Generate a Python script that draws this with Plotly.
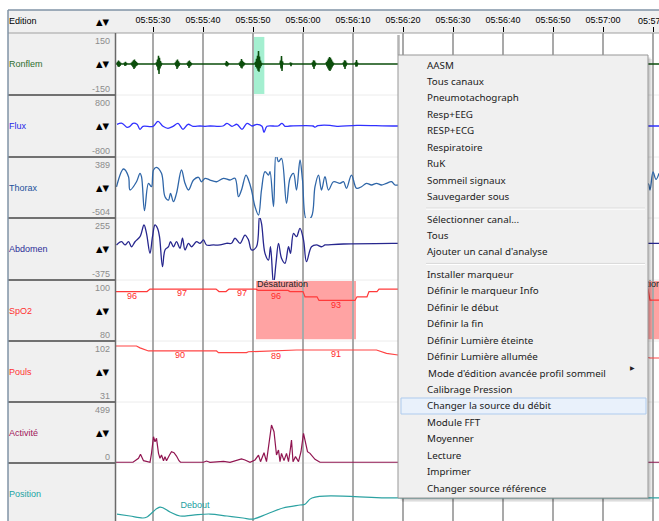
import plotly.graph_objects as go

W, H = 659, 521

# time axis in seconds after 05:55:00
tick_vals = [30, 40, 50, 60, 70, 80, 90, 100, 110, 120, 130]
tick_text = ["05:55:30", "05:55:40", "05:55:50", "05:56:00", "05:56:10", "05:56:20",
             "05:56:30", "05:56:40", "05:56:50", "05:57:00", "05:57:10"]
t_range = [22.6, 131.2]

channels = ["Ronflem", "Flux", "Thorax", "Abdomen", "SpO2", "Pouls", "Activité", "Position"]
scale_top = ["150", "800", "389", "255", "100", "102", "499", ""]
scale_bottom = ["-150", "-800", "-504", "-375", "80", "31", "0", ""]
y_ranges = [[-150, 150], [-800, 800], [-504, 389], [-375, 255],
            [80, 100], [31, 102], [0, 499], [0, 100]]
label_colors = ["#2f6e2f", "#2828e8", "#24509c", "#2c2c98",
                "#ff3030", "#ff3030", "#a0145a", "#22a4a4"]
line_colors = ["#0b4d0b", "#3030ff", "#2f66a8", "#27278e",
               "#ff3a3a", "#ff4444", "#901450", "#2ca2a2"]

# Ronflem (snoring)
ronflem_t = [22.6,
             22.8, 22.9, 23.0, 23.1, 23.2, 23.3, 23.4, 23.5, 23.6,
             24.2, 24.3, 24.4, 24.5, 24.6, 24.7, 24.8,
             25.6, 25.7, 25.8, 25.9, 26.0, 26.1, 26.2, 26.3, 26.4, 26.5, 26.6, 26.7, 26.8, 26.9, 27.0,
             30.6, 30.7, 30.8, 30.9, 31.0, 31.1, 31.2, 31.3, 31.4, 31.5, 31.6, 31.7, 31.8,
             34.4, 34.5, 34.6, 34.7, 34.8, 34.9, 35.0, 35.1, 35.2, 35.3, 35.4,
             36.8, 36.9, 37.0, 37.1, 37.2, 37.3, 37.4, 37.5, 37.6, 37.7, 37.8,
             44.4, 44.5, 44.6, 44.7, 44.8, 44.9, 45.0, 45.1, 45.2,
             47.2, 47.3, 47.4, 47.5, 47.6, 47.7, 47.8, 47.9, 48.0, 48.1, 48.2, 48.3, 48.4,
             50.4, 50.5, 50.6, 50.7, 50.8, 50.9, 51.0, 51.1, 51.2, 51.3, 51.4, 51.5, 51.6, 51.7, 51.8,
             55.4, 55.5, 55.6, 55.7, 55.8, 55.9, 56.0,
             57.4, 57.5, 57.6, 57.7, 57.8,
             61.8, 61.9, 62.0, 62.1, 62.2, 62.3, 62.4, 62.5, 62.6,
             64.6, 64.7, 64.8, 64.9, 65.0, 65.1, 65.2, 65.3, 65.4, 65.5, 65.6, 65.7, 65.8, 65.9, 66.0, 66.1, 66.2,
             68.0, 68.1, 68.2, 68.3, 68.4, 68.5, 68.6, 68.7, 68.8,
             70.4, 70.5, 70.6, 70.7, 70.8, 70.9, 71.0,
             131.2]
ronflem_v = [0,
             0, 10, -12, 17, -14, 12, -9, 6, 0,
             0, 6, -9, 10, -7, 4, 0,
             0, 6, -8, 12, -15, 18, -24, 22, -18, 14, -11, 9, -6, 3, 0,
             0, 8, -12, 22, -30, 40, -48, 30, -22, 14, -10, 5, 0,
             0, 8, -11, 16, -24, 22, -17, 13, -9, 5, 0,
             0, 6, -9, 13, -19, 17, -12, 9, -6, 3, 0,
             0, 5, -8, 14, -12, 9, -6, 3, 0,
             0, 6, -9, 13, -18, 24, -22, 16, -12, 9, -7, 4, 0,
             0, 10, -14, 25, -22, 40, -32, 63, -38, 36, -20, 16, -10, 5, 0,
             0, 16, -22, 38, -34, 12, 0,
             0, 7, -10, 5, 0,
             0, 8, -13, 18, -24, 16, -10, 6, 0,
             0, 9, -12, 17, -22, 26, -30, 34, -34, 30, -26, 22, -17, 12, -8, 4, 0,
             0, 8, -13, 18, -24, 16, -10, 6, 0,
             0, 8, -13, 19, -11, 6, 0,
             0]

# Flux
flux_t = [22.8, 23.8, 24.8, 25.4, 26.0, 26.8, 27.4, 28.0, 30.0, 31.0, 32.0, 33.0, 34.0,
          35.0, 36.0, 37.0, 38.0, 39.4, 40.4, 41.4, 44.0, 44.8, 45.8, 46.8, 47.8, 48.8,
          49.8, 50.8, 51.8, 52.2, 52.8, 55.0, 55.8, 56.4, 57.4, 62.0, 62.4, 63.0, 65.4,
          66.8, 70.8, 79.0, 131.2]
flux_v = [44, 70, -34, -8, 70, 44, -85, -8, -8, 121, -8, -59, -8,
          70, -85, 44, -8, 0, -8, 0, 0, 70, -8, 44, -85, 70,
          0, 44, -8, -163, -8, 0, 70, -8, 0, 0, -30, 10, 18,
          -8, 18, 0, 0]

# Thorax
thorax_t = [22.7, 24.1, 25.1, 25.4, 26.7, 27.4, 27.7, 28.3, 29.1, 29.7, 30.1, 30.7, 31.7,
            32.4, 33.1, 33.5, 34.1, 34.7, 35.7, 36.4, 37.1, 38.1, 39.1, 39.7, 40.4, 41.4,
            42.7, 44.1, 45.4, 46.4, 47.1, 47.7, 48.6, 49.1, 49.7, 50.4, 51.1, 51.7, 52.4,
            53.1, 53.4, 54.1, 54.6, 55.1, 55.7, 56.7, 57.4, 58.1, 58.7, 59.4, 59.9, 60.7,
            61.7, 62.4, 63.1, 63.7, 64.4, 65.1, 66.1, 67.4, 68.1, 68.7, 69.7, 70.7, 71.7,
            72.7, 73.7, 74.7, 75.7, 76.7, 77.7, 78.4, 79.1, 85.0, 95.0, 105.0, 115.0,
            125.0, 129.0, 129.4, 130.0, 130.6, 131.2]
thorax_v = [-48, 213, 101, -94, 27, 150, 101, -397, 4, -46, 199, 238, 150,
            -192, -241, -143, -265, -143, 199, 4, -94, 52, 92, 27, 77, 52,
            27, 77, 52, 77, -192, -94, 125, 52, -94, -338, -460, -94, 174,
            125, 174, -338, 443, 320, 370, -289, 77, 150, -94, 345, 52, -533,
            -485, -46, 125, -94, 101, -94, 27, 4, 27, -69, 125, -69, -46,
            4, -21, 4, -21, 4, 27, -21, -21, 30, -40, 20, -30,
            10, 0, -94, 170, 60, 150]

# Abdomen
abdomen_t = [22.7, 23.7, 24.4, 25.1, 25.7, 26.4, 27.4, 28.2, 28.7, 29.4, 29.9, 30.4, 30.9,
             31.3, 31.9, 32.4, 33.1, 33.5, 34.1, 34.7, 35.4, 35.9, 36.4, 37.1, 37.7, 38.7,
             39.4, 40.1, 40.7, 42.1, 43.4, 44.7, 45.7, 46.4, 47.4, 48.4, 49.1, 49.7, 50.7,
             51.3, 51.7, 52.4, 53.1, 53.5, 54.1, 54.6, 55.1, 55.7, 56.4, 57.1, 57.5, 58.1,
             58.7, 59.4, 60.1, 60.7, 61.7, 62.7, 63.7, 64.4, 64.7, 68.1, 79.1, 131.2]
abdomen_v = [-19, 14, -19, 14, -37, 14, 65, 184, 99, -104, 65, 184, 150,
             65, -240, -70, -37, 14, -37, 14, -53, 49, -70, -2, -37, 14,
             -2, 32, -19, -19, -19, -2, -2, 49, -2, 82, 32, -70, -37,
             268, 201, -104, -172, -37, -420, -205, -2, -154, -205, -37, -104, 99,
             65, 150, 32, -189, -37, -19, -37, -19, -19, -9, -2, -2]

# SpO2
spo2_t = [22.6, 28.8, 29.4, 42.6, 43.2, 44.6, 45.2, 50.6, 51.0, 57.0, 57.4, 60.0, 60.4,
          62.8, 63.2, 70.4, 70.8, 72.8, 73.2, 74.8, 75.2, 79.0, 129.0, 129.4, 131.2]
spo2_v = [96.2, 96.2, 97.0, 97.0, 96.2, 96.2, 97.0, 97.0, 96.6, 96.6, 96.2, 96.2, 94.5,
          94.5, 93.3, 93.3, 94.5, 94.5, 96.2, 96.2, 97.0, 97.0, 97.0, 93.4, 93.4]
spo2_lab_t = [25.8, 35.8, 47.8, 54.6, 66.6]
spo2_lab = ["96", "97", "97", "96", "93"]

# Pouls
pouls_t = [22.6, 26.7, 27.4, 29.1, 42.7, 43.1, 48.7, 49.1, 58.7, 74.7, 76.7, 79.0,
           100.0, 128.0, 129.4, 131.2]
pouls_v = [96.2, 96.2, 94.0, 90.4, 90.4, 88.5, 88.5, 89.5, 91.5, 91.5, 87.7, 85.7,
           86.0, 84.0, 82.2, 82.2]
pouls_lab_t = [35.4, 54.6, 66.6]
pouls_lab = ["90", "89", "91"]

# Activité
activite_t = [22.6, 26.0, 27.1, 27.5, 28.1, 29.4, 29.7, 30.1, 30.4, 30.7, 31.1, 31.4,
              31.7, 32.1, 32.4, 32.7, 33.3, 33.7, 34.2, 34.7, 35.2, 35.5, 40.1, 40.7,
              41.4, 44.1, 45.4, 46.7, 47.7, 48.4, 49.4, 50.4, 51.1, 51.5, 52.2, 52.7,
              53.3, 53.7, 54.2, 54.7, 55.1, 55.4, 55.7, 56.2, 56.7, 57.1, 57.4, 57.7,
              58.0, 58.5, 59.1, 59.6, 60.1, 60.5, 60.9, 61.4, 61.9, 62.4, 62.9, 63.4,
              131.2]
activite_v = [6, 6, 38, 71, 19, 6, 79, 215, 174, 202, 79, 38,
              65, 19, 52, 19, 65, 92, 84, 57, 19, 6, 6, 16,
              6, 14, 6, 19, 33, 25, 6, 25, 65, 11, 84, 11,
              188, 311, 256, 65, 106, 11, 79, 19, 79, 11, 92, 188,
              11, 52, 11, 92, 243, 174, 92, 79, 52, 30, 19, 6,
              6]

# Position
position_t = [22.8, 25.4, 28.0, 28.8, 31.4, 33.4, 35.4, 38.0, 41.4, 44.8, 48.0, 50.0,
              52.8, 56.0, 59.4, 60.4, 61.8, 79.0, 131.2]
position_v = [12, 8.6, 5.2, 7, 24, 15.5, 8.6, 10.3, 12, 8.6, 5.2, 3.4,
              12, 22.4, 27.6, 29, 39.7, 39.7, 39.7]
position_lab_t = [38.4]
position_lab = ["Debout"]

# events
snore_evt = [50.07, 52.27]
desat_start = [50.6, 121.2]
desat_end = [70.6, 140.0]

menu_items = ["AASM", "Tous canaux", "Pneumotachograph", "Resp+EEG", "RESP+ECG",
              "Respiratoire", "RuK", "Sommeil signaux", "Sauvegarder sous", None,
              "Sélectionner canal...", "Tous", "Ajouter un canal d'analyse", None,
              "Installer marqueur", "Définir le marqueur Info", "Définir le début",
              "Définir la fin", "Définir Lumière éteinte", "Définir Lumière allumée",
              "Mode d'édition avancée profil sommeil", "Calibrage Pression",
              "Changer la source du débit", "Module FFT", "Moyenner", "Lecture",
              "Imprimer", "Changer source référence"]
menu_hover = "Changer la source du débit"
menu_submenu = "Mode d'édition avancée profil sommeil"

row_edges = [33, 95, 157, 218, 280, 341, 402, 463, 521]
SANS = "Liberation Sans, Arial, sans-serif"
UI = "Noto Sans, Segoe UI, sans-serif"
ARROWS = "DejaVu Sans, sans-serif"


def px(x):
    return x / W


def py(y):
    return 1 - y / H


series = [(ronflem_t, ronflem_v, "linear", 1.5),
          (flux_t, flux_v, "spline", 1.3),
          (thorax_t, thorax_v, "spline", 1.3),
          (abdomen_t, abdomen_v, "spline", 1.3),
          (spo2_t, spo2_v, "linear", 1.2),
          (pouls_t, pouls_v, "linear", 1.2),
          (activite_t, activite_v, "linear", 1.2),
          (position_t, position_v, "spline", 1.2)]

fig = go.Figure()
layout = {}
for i, (t, v, shape, w) in enumerate(series):
    n = "" if i == 0 else str(i + 1)
    fig.add_trace(go.Scatter(x=t, y=v, mode="lines", xaxis="x" + n, yaxis="y" + n,
                             line=dict(color=line_colors[i], width=w, shape=shape),
                             hoverinfo="skip", showlegend=False))
    layout["yaxis" + n] = dict(domain=[py(row_edges[i + 1]), py(row_edges[i])],
                               range=y_ranges[i], showgrid=False, zeroline=False,
                               showticklabels=False, fixedrange=True, anchor="x" + n)
    xa = dict(domain=[px(116), 1], range=t_range, anchor="y" + n,
              tickvals=tick_vals, ticktext=tick_text,
              showgrid=True, gridcolor="#a9a9a9", gridwidth=1.5,
              zeroline=False, showline=False, fixedrange=True)
    if i == 0:
        xa.update(side="top", ticks="outside", ticklen=5, tickcolor="#000",
                  tickfont=dict(family=SANS, size=9, color="#000"))
    else:
        xa.update(matches="x", showticklabels=False, ticks="")
    layout["xaxis" + n] = xa

# in-plot labels
fig.add_trace(go.Scatter(x=spo2_lab_t, y=[float(s) - 1.4 for s in spo2_lab], text=spo2_lab,
                         mode="text", textfont=dict(family=SANS, size=9, color="#ff2a2a"),
                         xaxis="x5", yaxis="y5", hoverinfo="skip", showlegend=False))
fig.add_trace(go.Scatter(x=[t + 0.2 for t in desat_start], y=[98.6] * len(desat_start),
                         text=["Désaturation"] * len(desat_start), mode="text",
                         textposition="middle right",
                         textfont=dict(family=SANS, size=9, color="#222"),
                         xaxis="x5", yaxis="y5", hoverinfo="skip", showlegend=False))
fig.add_trace(go.Scatter(x=pouls_lab_t, y=[float(s) - 4.8 for s in pouls_lab], text=pouls_lab,
                         mode="text", textfont=dict(family=SANS, size=9, color="#ff2a2a"),
                         xaxis="x6", yaxis="y6", hoverinfo="skip", showlegend=False))
fig.add_trace(go.Scatter(x=position_lab_t, y=[26], text=position_lab,
                         mode="text", textfont=dict(family=SANS, size=9, color="#22a0a0"),
                         xaxis="x8", yaxis="y8", hoverinfo="skip", showlegend=False))

shapes = []
# frame: header, left panel
shapes.append(dict(type="rect", xref="paper", yref="paper", x0=px(8), x1=1, y0=py(33), y1=py(10),
                   fillcolor="#f0f0f0", line_width=0, layer="below"))
shapes.append(dict(type="rect", xref="paper", yref="paper", x0=px(8), x1=px(116), y0=0, y1=py(33),
                   fillcolor="#f0f0f0", line_width=0, layer="below"))
for e in row_edges[1:-1]:
    shapes.append(dict(type="line", xref="paper", yref="paper", x0=px(116), x1=1, y0=py(e), y1=py(e),
                       line=dict(color="#ececec", width=1), layer="below"))
    shapes.append(dict(type="line", xref="paper", yref="paper", x0=px(8), x1=px(116), y0=py(e), y1=py(e),
                       line=dict(color="#474747", width=1.5), layer="above"))
shapes.append(dict(type="line", xref="paper", yref="paper", x0=px(8), x1=1, y0=py(33), y1=py(33),
                   line=dict(color="#a0a0a0", width=1), layer="above"))
shapes.append(dict(type="line", xref="paper", yref="paper", x0=px(115.5), x1=px(115.5), y0=0, y1=py(33),
                   line=dict(color="#6a6a6a", width=1.5), layer="above"))
shapes.append(dict(type="line", xref="paper", yref="paper", x0=px(8), x1=px(8), y0=0, y1=py(10),
                   line=dict(color="#8193a6", width=1.5), layer="above"))
shapes.append(dict(type="line", xref="paper", yref="paper", x0=px(8), x1=1, y0=py(10), y1=py(10),
                   line=dict(color="#8193a6", width=1.5), layer="above"))

# events
shapes.append(dict(type="rect", xref="x", yref="y", x0=snore_evt[0], x1=snore_evt[1], y0=-145, y1=131,
                   fillcolor="#a4efd0", line_width=0, layer="below"))
for a, b in zip(desat_start, desat_end):
    shapes.append(dict(type="rect", xref="x5", yref="y5", x0=a, x1=b, y0=80.6, y1=99.7,
                       fillcolor="#ffa3a3", line_width=0, layer="below"))

# context menu
shapes.append(dict(type="line", xref="paper", yref="paper", x0=px(398.5), x1=px(398.5), y0=py(55), y1=py(35),
                   line=dict(color="#b4b4b4", width=2.5), layer="above"))
for off, a in [(4, 0.08), (2.5, 0.12)]:
    shapes.append(dict(type="rect", xref="paper", yref="paper", x0=px(398 + off), x1=px(648 + off),
                       y0=py(498 + off), y1=py(55 + off), fillcolor="rgba(0,0,0,%s)" % a,
                       line_width=0, layer="above"))
shapes.append(dict(type="rect", xref="paper", yref="paper", x0=px(398), x1=px(648), y0=py(498), y1=py(55),
                   fillcolor="#f0f0f0", line=dict(color="#979797", width=1), layer="above"))

annotations = []
y = 65.0
for item in menu_items:
    if item is None:
        sep = y - 16.45 + 11.5
        shapes.append(dict(type="line", xref="paper", yref="paper", x0=px(426), x1=px(645),
                           y0=py(sep), y1=py(sep), line=dict(color="#d7d7d7", width=1), layer="above"))
        shapes.append(dict(type="line", xref="paper", yref="paper", x0=px(426), x1=px(645),
                           y0=py(sep + 1), y1=py(sep + 1), line=dict(color="#ffffff", width=1), layer="above"))
        y += 6
        continue
    if item == menu_hover:
        shapes.append(dict(type="rect", xref="paper", yref="paper", x0=px(401), x1=px(646),
                           y0=py(y + 8), y1=py(y - 8), fillcolor="#e9f1fb",
                           line=dict(color="#aecbee", width=1), layer="above"))
    if item == menu_submenu:
        annotations.append(dict(x=px(637), y=py(y), xref="paper", yref="paper", text="▶",
                                showarrow=False, font=dict(family=ARROWS, size=6, color="#222")))
    annotations.append(dict(x=px(425.5), y=py(y), xref="paper", yref="paper", text=item,
                            showarrow=False, xanchor="left", yanchor="middle",
                            font=dict(family=UI, size=9.8, color="#1b1b1b")))
    y += 16.45

# last time label sits on the page edge and is cut there, as in the original window
annotations.append(dict(x=tick_vals[-1], y=py(21), xref="x", yref="paper", text=tick_text[-1],
                        showarrow=False, xanchor="left", xshift=-17.5, yanchor="middle",
                        font=dict(family=SANS, size=9, color="#000")))

# header and left panel texts
annotations.append(dict(x=px(7), y=py(21), xref="paper", yref="paper", text="Edition", showarrow=False,
                        xanchor="left", yanchor="middle", font=dict(family=SANS, size=9, color="#000")))
annotations.append(dict(x=px(112), y=py(22), xref="paper", yref="paper", text="<b>▲▼</b>", showarrow=False,
                        xanchor="right", yanchor="middle", font=dict(family=ARROWS, size=8.5, color="#000")))
for i, name in enumerate(channels):
    top, bot = row_edges[i], row_edges[i + 1]
    mid = (top + bot) / 2 if i < 7 else 494
    annotations.append(dict(x=px(7), y=py(mid), xref="paper", yref="paper", text=name, showarrow=False,
                            xanchor="left", yanchor="middle",
                            font=dict(family=SANS, size=9, color=label_colors[i])))
    if scale_top[i]:
        annotations.append(dict(x=px(112), y=py(mid), xref="paper", yref="paper", text="<b>▲▼</b>",
                                showarrow=False, xanchor="right", yanchor="middle",
                                font=dict(family=ARROWS, size=8.5, color="#000")))
        annotations.append(dict(x=px(112), y=py(top + 8), xref="paper", yref="paper", text=scale_top[i],
                                showarrow=False, xanchor="right", yanchor="middle",
                                font=dict(family=SANS, size=9, color="#8c8c8c")))
        annotations.append(dict(x=px(112), y=py(bot - 6), xref="paper", yref="paper", text=scale_bottom[i],
                                showarrow=False, xanchor="right", yanchor="middle",
                                font=dict(family=SANS, size=9, color="#8c8c8c")))

fig.update_layout(width=W, height=H, margin=dict(l=0, r=0, t=0, b=0),
                  paper_bgcolor="#ffffff", plot_bgcolor="rgba(0,0,0,0)",
                  shapes=shapes, annotations=annotations, showlegend=False, **layout)

fig.write_html("out.html", config={"displayModeBar": False, "staticPlot": True},
               post_script="document.body.style.margin='0';document.body.style.overflow='hidden';")
